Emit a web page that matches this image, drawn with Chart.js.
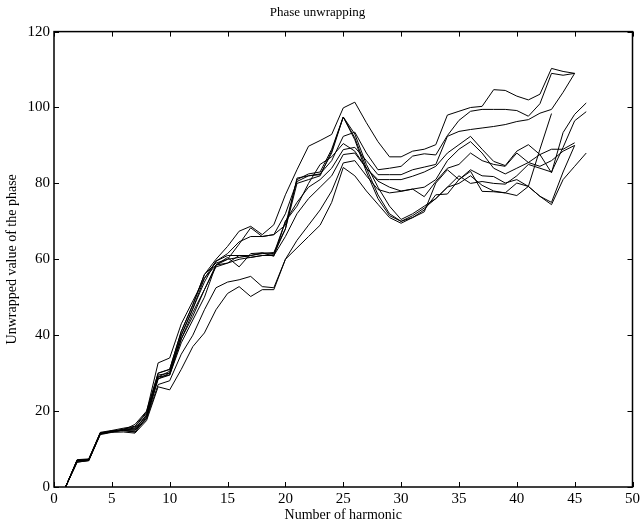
<!DOCTYPE html>
<html>
<head>
<meta charset="utf-8">
<script src="https://cdn.jsdelivr.net/npm/chart.js@4/dist/chart.umd.min.js"></script>
<style>
html,body{margin:0;padding:0;background:#fff;}
#wrap{width:643px;height:525px;}
</style>
</head>
<body>
<div id="wrap"><canvas id="c" width="643" height="525"></canvas></div>
<script>
// Each series: unwrapped phase for harmonics 1..N
const s1 = [0,7,7.2,14.2,14.8,15,16.5,20,30,31,41,48,56,60,63.4,67.4,68.7,66.5,69.1,77,83.6,89.8,91.3,92.9,99.9,101.4,96,91,87,87,88.5,89,90.2,98,99,100,100.3,104.7,104.5,103,102,103.5,110.3,109.5,109];
const s2 = [0,6.8,7,14,14.5,15,15,19,29,30.5,40,47,54,59.5,61.5,64.6,66,66,66.5,72,80.5,82,82.5,86,92.4,93.5,88,83.6,84,84.5,87.2,87.8,87.5,92.6,96.6,99,99.5,99.5,99.5,99.2,97.7,101,109,108.5,109];
const s3 = [0,7.2,7.4,14.3,14.6,15.2,15.5,18.5,28.5,30,39,45,52,58.5,60,60.5,61,61.7,60.8,70,75,79,81,84,88.9,89.5,86,82.3,82.3,82.3,83.6,84.3,85,92.4,93.7,94.2,94.6,95,95.5,96.3,96.8,98.5,99.5,104,109];
const s4 = [0,6.5,7,14,14.8,14.8,14.5,18,29,29.5,38,44,50,58.5,59,60,60.5,61,61,66,72,76,79,82,87.6,88,84,81,81,81,81.9,83,84.5,88,90.2,92.4,89,85.8,84.7,88.5,90.2,87.6,89,89,90.7];
const s5 = [0,7,7,14.2,14.5,15,15,18,27,28,35,40,46.7,52.5,54,54.6,55.5,52.8,52.5,60,65,69,73,78,85.4,86,82,78.4,77.5,77.9,78.5,76.5,80.5,84,85,88,86,85,84.5,88,85.5,87.6,82.8,93.4,98.2,101.2];
const s6 = [0,7,7.3,14.1,14.7,15,15.3,19,29.5,30,40,47,55,59.5,61,61,61,61.5,61.8,68,81.4,82,82.3,88,97.5,93,85,79,74,70.5,72,74,76,79,82,80,80.5,80,79.8,82,85,84,83,89.5,96.5,98.9];
const s7 = [0,7.1,7.1,14,14.5,15.3,15.8,19.5,30,31,41,48,56,59,60,64,68.3,66,66.5,69,81,82.5,83,89,97.5,92,84,77,72,70,71.5,73.5,76,79,80,82,79.5,78,77.5,76.8,79.2,89,98.4];
const s8 = [0,6.9,7,14.1,14.6,15,14.5,18.5,28.5,29.5,39,46,52,58,59,61,60.5,61,61.2,68,80,81,82,88.5,97.5,91.5,83,76,71.5,70,71,73,77,77.2,81,83.6,82,81.8,80.1,81,79.2,76.6,74.4,81,84.5,88];
const s9 = [0,6.6,6.9,13.8,14.4,14.5,14.2,17.5,26.4,25.6,31,37,40.6,46.7,51,52.8,50.2,52,52,60,63,66,69,75,84.2,82,78,74.5,71,69.5,71,72.5,80.1,83.6,81,83.2,77.9,77.8,77.5,80.1,79.2,76.6,75,83,90];
const s10 = [0,7,7.2,14.4,14.9,15.5,16,19.8,32.7,34,43,49,55,58.5,60.5,58,61.5,61.7,61.5,70,74,80,85,87,90.5,88.5,84,80.6,79,78,78.5,79,81,86,89,91,88,84,82.5,84,85.5,84.5,86,88.5,90];
const seriesList = [s1,s2,s3,s4,s5,s6,s7,s8,s9,s10];
const xTicks = [0,5,10,15,20,25,30,35,40,45,50];
const yTicks = [0,20,40,60,80,100,120];

const FONT = "'Liberation Serif','Times New Roman',serif";

const datasets = seriesList.map((arr) => ({
  data: arr.map((v, i) => ({x: i + 1, y: v})),
  borderColor: '#000',
  borderWidth: 1,
  pointRadius: 0,
  fill: false,
  tension: 0
}));

const boxTicks = {
  id: 'boxTicks',
  afterDraw(chart) {
    const {ctx, chartArea: a, scales} = chart;
    const L = 5;
    ctx.save();
    ctx.strokeStyle = '#000';
    ctx.lineWidth = 1;
    ctx.beginPath();
    xTicks.forEach(v => {
      const px = Math.round(scales.x.getPixelForValue(v)) + 0.5;
      ctx.moveTo(px, a.bottom); ctx.lineTo(px, a.bottom - L);
      ctx.moveTo(px, a.top); ctx.lineTo(px, a.top + L);
    });
    yTicks.forEach(v => {
      const py = Math.round(scales.y.getPixelForValue(v)) + 0.5;
      ctx.moveTo(a.left, py); ctx.lineTo(a.left + L, py);
      ctx.moveTo(a.right, py); ctx.lineTo(a.right - L, py);
    });
    ctx.stroke();
    ctx.lineWidth = 1.5;
    ctx.strokeRect(a.left, a.top, a.right - a.left, a.bottom - a.top);
    ctx.restore();
  }
};

new Chart(document.getElementById('c'), {
  type: 'line',
  data: {datasets},
  options: {
    responsive: false,
    animation: false,
    layout: {padding: {left: 0, right: 8, top: 0, bottom: 0}},
    plugins: {
      legend: {display: false},
      tooltip: {enabled: false},
      title: {
        display: true,
        text: 'Phase unwrapping',
        color: '#000',
        font: {family: FONT, size: 13, weight: 'normal', lineHeight: 1.2},
        padding: {top: 5, bottom: 11}
      }
    },
    scales: {
      x: {
        type: 'linear',
        min: 0, max: 50,
        afterBuildTicks: (s) => { s.ticks = xTicks.map(v => ({value: v})); },
        ticks: {color: '#000', font: {family: FONT, size: 15}, padding: 3, maxRotation: 0, autoSkip: false},
        grid: {display: false, drawTicks: false},
        border: {display: false},
        title: {display: true, text: 'Number of harmonic', color: '#000', font: {family: FONT, size: 14}, padding: {top: 0, bottom: 1}},
        afterFit: (s) => { s.height = 38; }
      },
      y: {
        type: 'linear',
        min: 0, max: 120,
        afterBuildTicks: (s) => { s.ticks = yTicks.map(v => ({value: v})); },
        ticks: {color: '#000', font: {family: FONT, size: 15}, padding: 4, autoSkip: false},
        grid: {display: false, drawTicks: false},
        border: {display: false},
        title: {display: true, text: 'Unwrapped value of the phase', color: '#000', font: {family: FONT, size: 14}, padding: {top: 4, bottom: 0}},
        afterFit: (s) => { s.width = 54; }
      }
    }
  },
  plugins: [boxTicks]
});
</script>
</body>
</html>
